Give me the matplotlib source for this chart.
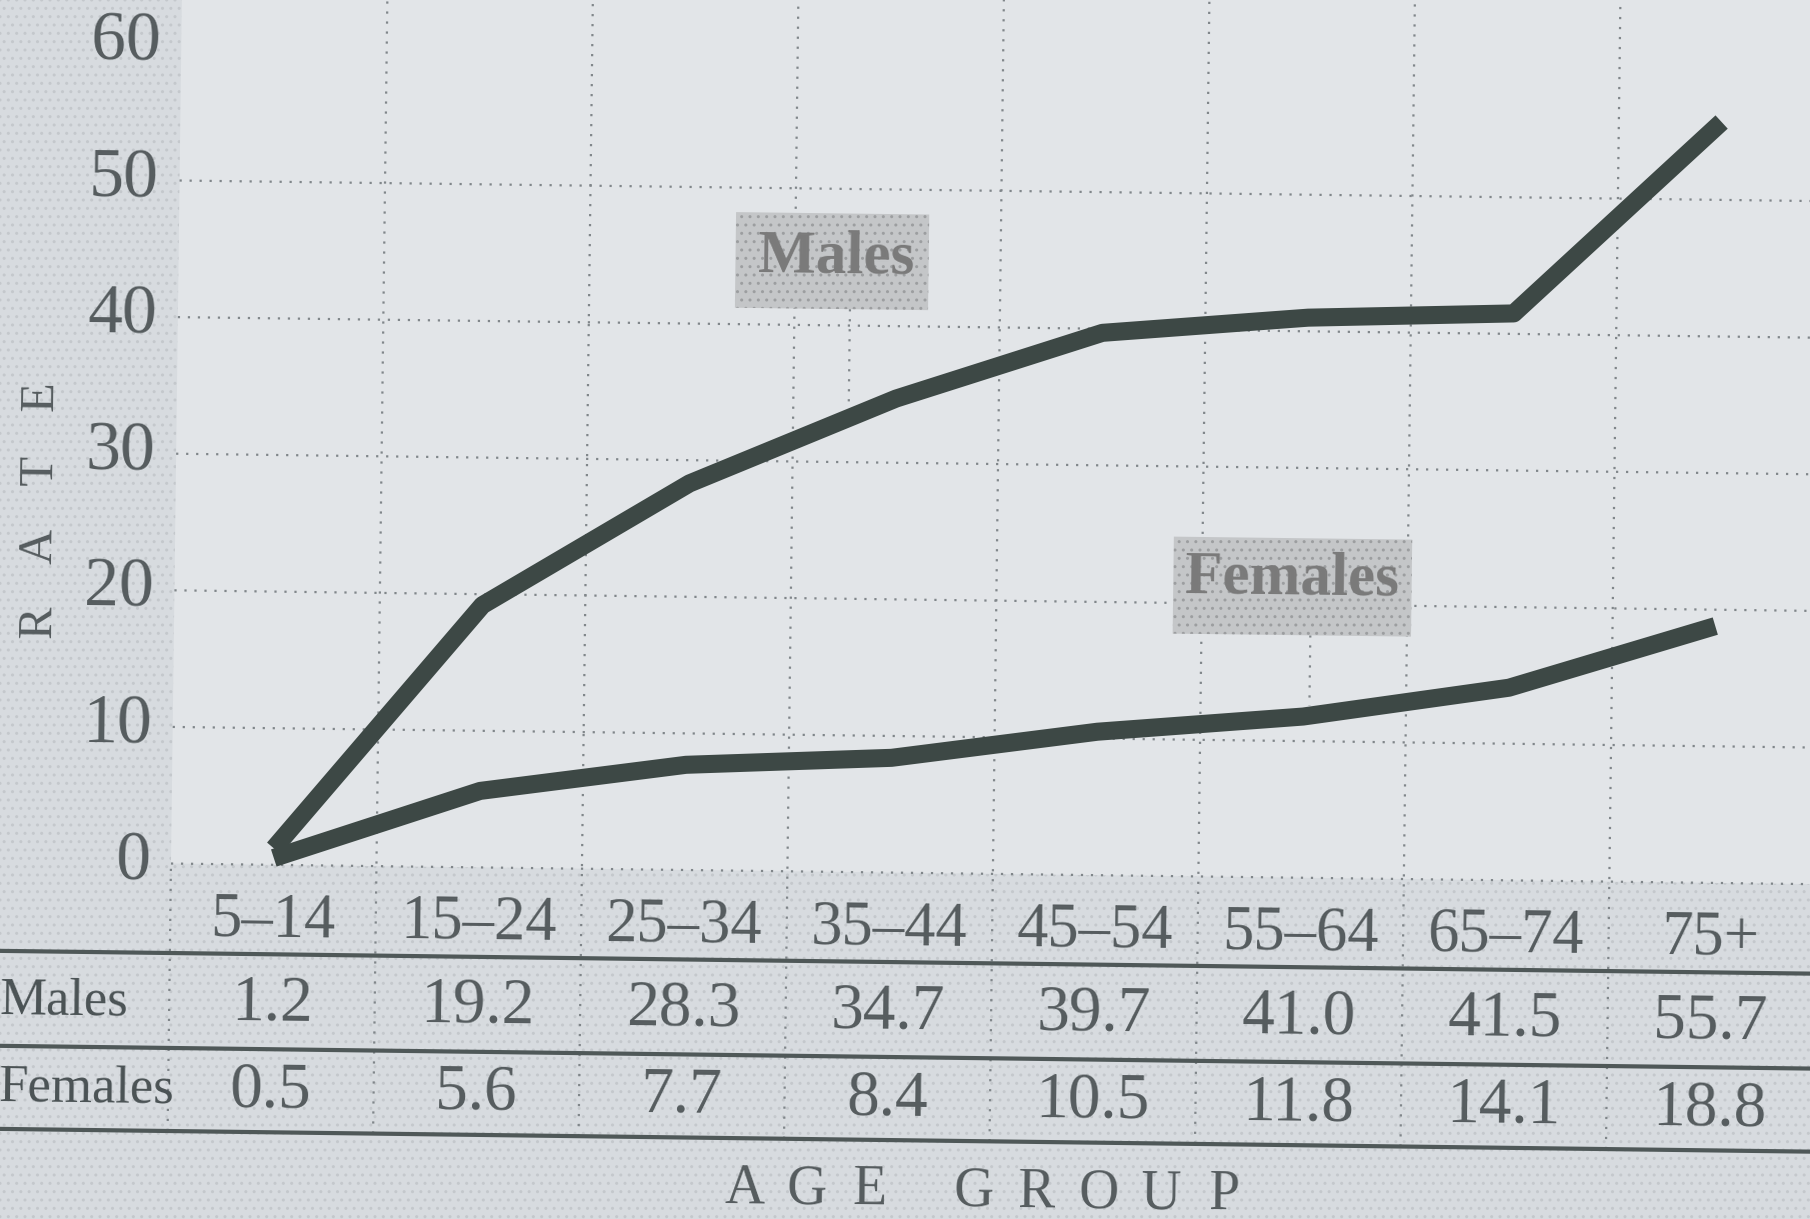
import matplotlib
matplotlib.use("Agg")
import matplotlib.pyplot as plt
import matplotlib.transforms as mtransforms
from matplotlib.patches import Rectangle

# data (table values)
age_groups = ["5–14", "15–24", "25–34", "35–44", "45–54", "55–64", "65–74", "75+"]
males = [1.2, 19.2, 28.3, 34.7, 39.7, 41.0, 41.5, 55.7]
females = [0.5, 5.6, 7.7, 8.4, 10.5, 11.8, 14.1, 18.8]
rate_ticks = [0, 10, 20, 30, 40, 50, 60]
row_names = ["Males", "Females"]

INK = "#3d4845"
TXT = "#555c5e"
GRID = "#80868a"
SERIF = ["Liberation Serif", "DejaVu Serif"]
DOTS = (0, (1, 3.5))

fig = plt.figure(figsize=(18.1, 12.19), dpi=100)
fig.patch.set_facecolor("#d8dce0")
ax = fig.add_axes([0, 0, 1, 1])
ax.set_xlim(-1.332, 7.476)
ax.set_ylim(-26.02, 63.21)
ax.axis("off")

# the scan is tilted a little, so everything goes through a small rotation
tilt = -0.72
T = ax.transData + mtransforms.Affine2D().rotate_deg_around(171, 356, tilt)

def put(x, y, s, size, **kw):
    kw.setdefault("family", SERIF)
    kw.setdefault("color", TXT)
    kw.setdefault("ha", "center")
    ax.text(x, y, s, transform=T, va="center", fontsize=size,
            rotation=kw.pop("rot", 0) + tilt, rotation_mode="anchor", **kw)

# halftone margin and the lighter plot field
ax.add_patch(Rectangle((-3, -40), 14, 120, transform=T, facecolor="#d7dbdf",
                       hatch="..", edgecolor="#c4c8cc", lw=0, zorder=0))
ax.add_patch(Rectangle((-0.5, 0), 10, 80, transform=T, facecolor="#e2e5e8",
                       lw=0, zorder=0.5))

x = list(range(len(age_groups)))
n = len(x)
y_cat, y_m, y_f = -4.14, -10.21, -16.57
line_rows = [-6.55, -13.5, -19.58]

# grid
for v in rate_ticks[:-1]:
    ax.plot([-0.5, 9], [v, v], transform=T, color=GRID, ls=DOTS, lw=1.6, zorder=1)
for i in range(n):
    top = 70 if i > 0 else 0
    ax.plot([i - 0.5, i - 0.5], [line_rows[-1], top], transform=T,
            color=GRID, ls=DOTS, lw=1.6, zorder=1)

# y labels
for v in rate_ticks:
    put(-0.6, v, str(v), 50, ha="right")
for k, ch in enumerate("RATE"):
    put(-1.16, 17.6 + k * 5.5, ch, 35, rot=90)

# series
for vals in (males, females):
    ax.plot(x, vals, transform=T, color=INK, lw=13, solid_joinstyle="round",
            solid_capstyle="butt", zorder=3)

# labels with their dotted leaders
ax.add_patch(Rectangle((2.21, 41.2), 0.94, 7.0, transform=T, facecolor="#c4c6c8",
                       hatch="..", edgecolor="#9c9ea0", lw=0, zorder=2))
ax.plot([2.77, 2.77], [41.2, 34.0], transform=T, color=GRID, ls=DOTS, lw=1.6, zorder=1)
put(2.70, 45.0, "Males", 44, weight="bold", color="#7a7a7a", zorder=4)
ax.add_patch(Rectangle((4.36, 17.75), 1.16, 7.1, transform=T, facecolor="#c4c6c8",
                       hatch="..", edgecolor="#9c9ea0", lw=0, zorder=2))
ax.plot([5.03, 5.03], [17.75, 12.6], transform=T, color=GRID, ls=DOTS, lw=1.6, zorder=1)
put(4.94, 21.9, "Females", 44, weight="bold", color="#7a7a7a", zorder=4)

# table under the chart
for yy in line_rows:
    ax.plot([-1.5, 9], [yy, yy], transform=T, color="#4f5858", lw=3, zorder=2)
for i in x:
    put(i, y_cat, age_groups[i], 45)
    put(i, y_m, f"{males[i]:.1f}", 47)
    put(i, y_f, f"{females[i]:.1f}", 47)
for name, yy in zip(row_names, [y_m, y_f]):
    put(-1.325, yy, name, 38, ha="left", color="#4a5254")

xx = 2.31
for ch in "AGE GROUP":
    if ch == " ":
        xx += 0.2
        continue
    put(xx, -23.3, ch, 40)
    xx += 0.305

fig.savefig("out.png", dpi=100, facecolor=fig.get_facecolor())
